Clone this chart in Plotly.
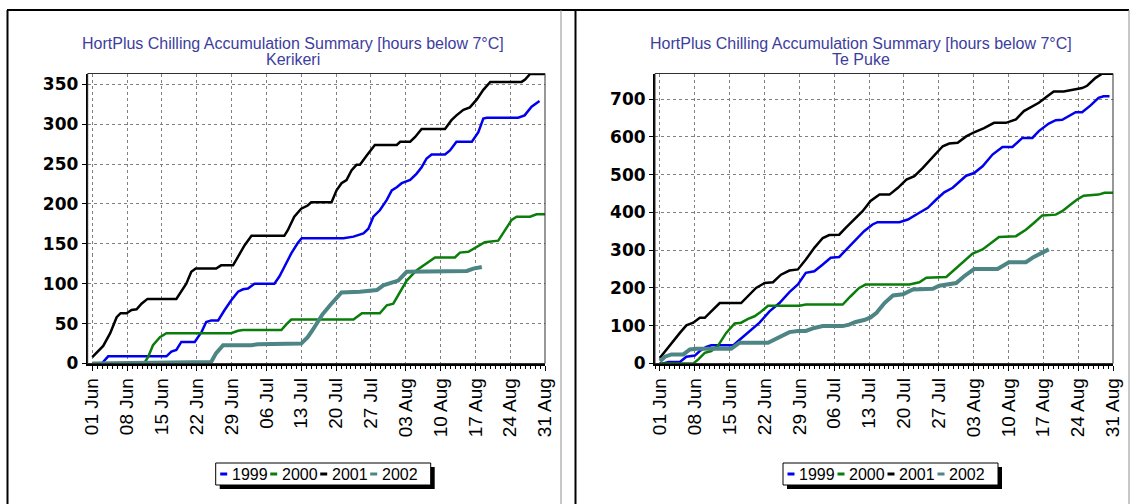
import pandas as pd
import plotly.graph_objects as go

# ---------------- data (day offset from 01 Jun, cumulative hours below 7°C) ----------------
SITES = ["Kerikeri", "Te Puke"]
YEARS = ["1999", "2000", "2001", "2002"]
TICK_LABELS = ["01 Jun", "08 Jun", "15 Jun", "22 Jun", "29 Jun", "06 Jul", "13 Jul",
               "20 Jul", "27 Jul", "03 Aug", "10 Aug", "17 Aug", "24 Aug", "31 Aug"]
TITLE = "HortPlus Chilling Accumulation Summary [hours below 7°C]"

KERIKERI_1999 = [(0, 0), (1.9, 0), (3.2, 9), (14.9, 9), (15.9, 15), (16.9, 17), (17.9, 27), (20.6, 27),
                 (22.0, 40), (22.9, 52), (23.9, 54), (25.3, 54), (26.6, 67), (27.9, 79), (29.3, 90),
                 (30.3, 93), (31.3, 94), (32.6, 100), (36.6, 100), (37.6, 109), (38.6, 121), (40.0, 138),
                 (41.3, 151), (42.1, 157), (50.5, 157), (52.5, 159), (54.5, 163), (55.5, 169), (56.5, 184),
                 (57.8, 192), (59.2, 205), (60.2, 217), (61.2, 221), (62.2, 226), (63.9, 230), (65.2, 238),
                 (66.2, 246), (67.2, 257), (68.2, 262), (70.9, 262), (71.9, 267), (73.2, 278), (76.3, 278),
                 (77.6, 290), (78.6, 307), (79.3, 308), (85.6, 308), (86.9, 311), (88.3, 322), (89.9, 329)]
KERIKERI_2000 = [(0, 0), (10.4, 0), (11.2, 8), (12.2, 23), (13.6, 33), (14.9, 38), (27.9, 38), (29.3, 41),
                 (30.3, 42), (38.0, 42), (39.0, 49), (40.0, 55), (52.5, 55), (54.2, 63), (57.8, 63),
                 (59.2, 73), (60.5, 75), (61.9, 90), (63.2, 104), (65.2, 117), (67.2, 126), (68.9, 133),
                 (72.9, 133), (73.9, 139), (75.6, 140), (77.3, 146), (78.9, 152), (81.6, 154), (83.0, 167),
                 (84.3, 180), (85.3, 184), (88.0, 184), (89.3, 187), (91, 187)]
KERIKERI_2001 = [(0, 8), (2.2, 22), (3.6, 38), (4.9, 58), (5.7, 63), (6.9, 63), (7.9, 67), (8.9, 68),
                 (9.9, 75), (11.1, 81), (16.9, 81), (17.9, 90), (18.9, 100), (19.9, 115), (20.8, 119),
                 (24.9, 119), (25.9, 123), (28.3, 123), (29.3, 134), (30.6, 148), (32.0, 160), (38.6, 160),
                 (39.3, 167), (40.6, 184), (42.0, 194), (43.3, 198), (44.0, 202), (48.1, 202), (49.1, 217),
                 (50.1, 226), (51.1, 230), (52.1, 242), (53.1, 249), (53.8, 249), (55.2, 261), (56.8, 274),
                 (61.2, 274), (61.9, 278), (63.9, 278), (64.9, 284), (66.2, 294), (70.9, 294), (72.2, 305),
                 (73.2, 311), (74.6, 318), (75.9, 321), (77.3, 331), (78.6, 343), (80.0, 353), (86.3, 353),
                 (87.0, 356), (88.0, 363), (91, 363)]
KERIKERI_2002 = [(0, 0), (14.6, 1), (18.6, 2), (23.9, 2), (24.9, 13), (26.3, 23), (32.0, 23), (33.3, 24),
                 (42.0, 25), (43.3, 33), (44.3, 42), (45.2, 52), (46.2, 61), (47.8, 73), (50.1, 89),
                 (53.8, 90), (57.2, 92), (58.5, 98), (60.2, 102), (61.5, 104), (63.2, 115), (67.2, 115),
                 (75.3, 116), (76.6, 119), (78.3, 121)]

TEPUKE_1999 = [(0, 0), (0.7, 0), (1.7, 4), (4.0, 4), (5.3, 18), (7.0, 21), (8.0, 33), (9.3, 44), (10.3, 48),
               (14.7, 48), (16.0, 63), (18.0, 86), (20.0, 108), (22.0, 138), (24.0, 160), (26.0, 189),
               (27.7, 209), (29.3, 240), (31.0, 244), (32.7, 262), (34.3, 280), (36.0, 282), (37.7, 306),
               (39.3, 328), (41.0, 350), (42.7, 368), (43.7, 374), (48.1, 374), (49.8, 381), (52.1, 399),
               (53.8, 412), (55.5, 434), (57.1, 453), (58.8, 465), (60.1, 480), (61.5, 497), (63.1, 504),
               (64.8, 522), (66.8, 553), (68.8, 573), (70.8, 573), (72.8, 597), (74.8, 597), (76.1, 615),
               (78.1, 635), (79.5, 644), (80.8, 645), (82.1, 654), (83.5, 665), (84.8, 665), (86.5, 683),
               (88.1, 703), (89.1, 707), (90.3, 707)]
TEPUKE_2000 = [(0, 0), (6.7, 0), (7.7, 11), (9.0, 28), (10.3, 33), (11.7, 48), (13.3, 81), (15.0, 106),
               (16.3, 108), (17.7, 118), (19.0, 125), (20.0, 134), (21.7, 153), (28.0, 153), (29.3, 156),
               (36.7, 156), (38.3, 178), (40.0, 200), (41.3, 209), (50.1, 209), (52.1, 215), (53.5, 227),
               (57.5, 229), (58.8, 244), (60.5, 266), (62.8, 291), (64.8, 302), (66.5, 319), (68.1, 335),
               (71.5, 337), (73.5, 354), (75.1, 372), (76.8, 392), (79.5, 394), (80.8, 403), (82.5, 421),
               (83.8, 434), (85.1, 444), (88.1, 447), (89.3, 452), (91, 452)]
TEPUKE_2001 = [(0, 15), (1.3, 37), (2.7, 59), (4.0, 81), (5.3, 101), (6.7, 108), (8.0, 121), (9.0, 121),
               (10.3, 138), (12.0, 160), (16.3, 160), (17.7, 178), (19.3, 200), (21.0, 213), (22.7, 215),
               (24.3, 235), (26.0, 246), (27.7, 249), (29.3, 275), (31.0, 306), (32.7, 332), (34.0, 340),
               (36.0, 341), (37.3, 359), (39.0, 381), (40.7, 403), (42.3, 430), (44.1, 447), (46.1, 447),
               (47.8, 465), (49.5, 487), (51.1, 496), (52.8, 518), (54.8, 548), (56.8, 575), (58.1, 582),
               (59.8, 584), (61.5, 601), (63.1, 612), (65.1, 623), (67.1, 637), (69.5, 637), (71.5, 646),
               (73.1, 668), (74.8, 681), (76.1, 690), (77.8, 707), (79.1, 720), (81.1, 720), (82.8, 725),
               (84.8, 729), (85.8, 735), (87.5, 756), (88.8, 767), (91, 767)]
TEPUKE_2002 = [(0, 6), (1.0, 18), (2.3, 24), (4.7, 24), (6.0, 37), (7.3, 39), (14.3, 39), (16.0, 55),
               (21.7, 55), (23.0, 63), (24.3, 72), (26.0, 83), (27.7, 86), (29.3, 86), (31.0, 94),
               (32.7, 99), (36.7, 99), (38.0, 103), (39.3, 110), (41.0, 115), (42.3, 122), (43.5, 134),
               (45.1, 160), (46.8, 180), (48.8, 183), (50.8, 196), (54.8, 198), (56.1, 206), (59.5, 213),
               (61.1, 231), (63.1, 250), (67.8, 250), (70.1, 268), (73.5, 268), (75.1, 282), (76.8, 295),
               (78.1, 302)]

SERIES = {
    "Kerikeri": [KERIKERI_1999, KERIKERI_2000, KERIKERI_2001, KERIKERI_2002],
    "Te Puke": [TEPUKE_1999, TEPUKE_2000, TEPUKE_2001, TEPUKE_2002],
}
Y_MAX = {"Kerikeri": 363.5, "Te Puke": 767.5}
Y_DTICK = {"Kerikeri": 50, "Te Puke": 100}

# ---------------- styles ----------------
COLORS = ["#0000ee", "#0a7d0a", "#000000", "#4d8585"]
WIDTHS = [2.5, 2.5, 2.5, 4]
W, H = 1136, 504
BASE = pd.Timestamp("2002-06-01")
TITLE_COLOR = "#3d3d9e"
FONT = "Liberation Sans, Arial"


def px_x(v):
    return v / W


def px_y(v):
    return 1 - v / H


def to_dates(days):
    return [BASE + pd.Timedelta(days=d) for d in days]


fig = go.Figure()

# panel layout in pixels
PANELS = [
    dict(x0=87.7, x1=545.0, left_days=0.92, title_x=293, legend_x0=215.7),
    dict(x0=655.0, x1=1113.0, left_days=1.0, title_x=861, legend_x0=783.0),
]
Y_TOP, Y_BOT = 73.5, 363.5

tickvals = to_dates([7 * i for i in range(len(TICK_LABELS))])
shapes = []
annotations = []

for i, site in enumerate(SITES):
    p = PANELS[i]
    xa = "x" if i == 0 else "x2"
    ya = "y" if i == 0 else "y2"
    for j, year in enumerate(YEARS):
        pts = SERIES[site][j]
        fig.add_trace(go.Scatter(
            x=to_dates([d for d, _ in pts]), y=[v for _, v in pts],
            mode="lines", name=year, showlegend=False,
            line=dict(color=COLORS[j], width=WIDTHS[j]),
            xaxis=xa, yaxis=ya, hoverinfo="skip"))

    axis_key = "" if i == 0 else "2"
    fig.update_layout(**{
        "xaxis" + axis_key: dict(
            domain=[px_x(p["x0"]), px_x(p["x1"])], automargin=False,
            anchor=ya, type="date",
            range=[BASE - pd.Timedelta(days=p["left_days"]), BASE + pd.Timedelta(days=91)],
            tickmode="array", tickvals=tickvals, ticktext=TICK_LABELS, tickangle=-90,
            tickfont=dict(family=FONT, size=19, color="black"),
            showgrid=True, gridcolor="#808080", gridwidth=1, griddash="3px,3px",
            showline=True, linecolor="black", linewidth=2,
            ticks="outside", ticklen=5, tickcolor="black", tickwidth=1,
            minor=dict(tickmode="linear", tick0=BASE, dtick=86400000, ticks="outside",
                       ticklen=3, tickcolor="black", showgrid=False),
            zeroline=False, fixedrange=True),
        "yaxis" + axis_key: dict(
            domain=[px_y(Y_BOT), px_y(Y_TOP)], automargin=False,
            anchor=xa, range=[0, Y_MAX[site]], dtick=Y_DTICK[site], tick0=0,
            tickfont=dict(family="DejaVu Sans", size=17, color="black", weight="bold"),
            showgrid=True, gridcolor="#808080", gridwidth=1, griddash="3px,3px",
            showline=True, linecolor="black", linewidth=2,
            ticks="outside", ticklen=4, tickcolor="black",
            zeroline=False, fixedrange=True),
    })

    # plot frame
    shapes.append(dict(type="rect", xref=xa + " domain", yref=ya + " domain",
                       x0=0, x1=1, y0=0, y1=1, line=dict(color="#303030", width=1),
                       layer="above"))

    # titles
    annotations.append(dict(text=TITLE, x=px_x(p["title_x"]), y=px_y(43), xref="paper", yref="paper",
                            showarrow=False, xanchor="center", yanchor="middle",
                            font=dict(family=FONT, size=16, color=TITLE_COLOR)))
    annotations.append(dict(text=site, x=px_x(p["title_x"]), y=px_y(59.5), xref="paper", yref="paper",
                            showarrow=False, xanchor="center", yanchor="middle",
                            font=dict(family=FONT, size=16, color=TITLE_COLOR)))

    # legend box with shadow
    lx0 = p["legend_x0"]
    lx1 = lx0 + 215
    ly0, ly1 = 463, 485
    ymid = (ly0 + ly1) / 2
    shapes.append(dict(type="rect", xref="paper", yref="paper",
                       x0=px_x(lx0 + 4), x1=px_x(lx1 + 4), y0=px_y(ly1 + 4), y1=px_y(ly0 + 4),
                       fillcolor="black", line=dict(width=0), layer="above"))
    shapes.append(dict(type="rect", xref="paper", yref="paper",
                       x0=px_x(lx0), x1=px_x(lx1), y0=px_y(ly1), y1=px_y(ly0),
                       fillcolor="white", line=dict(color="black", width=1), layer="above"))
    for j, year in enumerate(YEARS):
        ix = lx0 + 4.5 + 50 * j
        shapes.append(dict(type="line", xref="paper", yref="paper",
                           x0=px_x(ix), x1=px_x(ix + 7), y0=px_y(ymid), y1=px_y(ymid),
                           line=dict(color=COLORS[j], width=3), layer="above"))
        annotations.append(dict(text=year, x=px_x(ix + 9.5), y=px_y(ymid + 0.5),
                                xref="paper", yref="paper", showarrow=False,
                                xanchor="left", yanchor="middle",
                                font=dict(family=FONT, size=16, color="black")))

# outer panel borders (table-like cells)
shapes += [
    dict(type="line", xref="paper", yref="paper", x0=px_x(7), x1=px_x(1129), y0=px_y(10), y1=px_y(10),
         line=dict(color="black", width=2)),
    dict(type="line", xref="paper", yref="paper", x0=px_x(7.5), x1=px_x(7.5), y0=px_y(10), y1=0,
         line=dict(color="black", width=2)),
    dict(type="line", xref="paper", yref="paper", x0=px_x(575.5), x1=px_x(575.5), y0=px_y(10), y1=0,
         line=dict(color="black", width=2)),
    dict(type="line", xref="paper", yref="paper", x0=px_x(561), x1=px_x(561), y0=px_y(10), y1=0,
         line=dict(color="#909090", width=1)),
    dict(type="line", xref="paper", yref="paper", x0=px_x(1129), x1=px_x(1129), y0=px_y(10), y1=0,
         line=dict(color="#909090", width=1)),
]

fig.update_layout(
    width=W, height=H,
    margin=dict(l=0, r=0, t=0, b=0, pad=0),
    paper_bgcolor="white", plot_bgcolor="white",
    showlegend=False,
    shapes=shapes, annotations=annotations,
)

# remove the default 8px page margin so the figure sits at the window origin
fig.write_html("out.html", config={"displayModeBar": False},
               post_script="document.body.style.margin='0';")
